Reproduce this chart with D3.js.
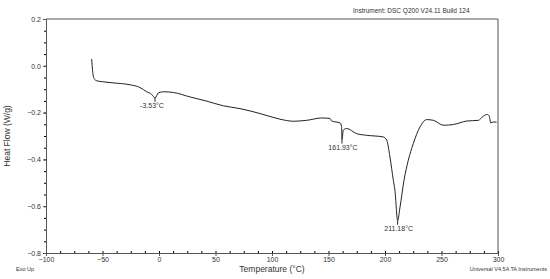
<!DOCTYPE html>
<html>
<head>
<meta charset="utf-8">
<script src="https://cdn.jsdelivr.net/npm/d3@7"></script>
<style>
  body { margin: 0; background: #fff; }
  text { font-family: "Liberation Sans", Arial, sans-serif; fill: #333; }
</style>
</head>
<body>
<div id="chart"></div>
<script>
// DSC trace, temperature (°C) vs heat flow (W/g)
var temps = [-59.6, -58.8, -57.5, -55.1, -50, -40.7, -25.7, -16.8, -10.9, -6.5, -3.5, -0.6, 3.8, 12.7, 27.4, 42.2, 56.9, 71.7, 89.4, 107, 118.9, 130.7, 144, 151.3, 152.8, 160.2, 161.6, 161.9, 163.1, 166.1, 174.9, 183.8, 198.5, 201.5, 204.4, 207.4, 208.8, 211.2, 213.3, 216.8, 220.6, 225, 231, 236.9, 242.8, 251.7, 260.5, 272.3, 282.6, 287, 290.5, 292.3, 293.5, 295.8, 298.8];
var heatFlow = [0.029, -0.02, -0.054, -0.064, -0.068, -0.073, -0.081, -0.093, -0.111, -0.122, -0.137, -0.116, -0.111, -0.114, -0.133, -0.151, -0.171, -0.183, -0.204, -0.228, -0.237, -0.233, -0.223, -0.225, -0.236, -0.244, -0.26, -0.315, -0.275, -0.268, -0.290, -0.297, -0.304, -0.318, -0.39, -0.49, -0.532, -0.662, -0.604, -0.49, -0.404, -0.333, -0.261, -0.23, -0.233, -0.254, -0.251, -0.236, -0.233, -0.215, -0.208, -0.215, -0.244, -0.24, -0.241];

var peakTemps = [-3.53, 161.93, 211.18];
var peakLabels = ["-3.53°C", "161.93°C", "211.18°C"];
var peakVals = [-0.137, -0.315, -0.662];
var labelShift = [-3, 1, 1];

var xTicks = [-100, -50, 0, 50, 100, 150, 200, 250, 300];
var yTicks = [0.2, 0.0, -0.2, -0.4, -0.6, -0.8];

const margin = {top: 19, right: 52, bottom: 26, left: 46},
  W = 550, H = 279,
  width = W - margin.left - margin.right,
  height = H - margin.top - margin.bottom;

var svg = d3.select("#chart").append("svg")
  .attr("width", W).attr("height", H);
var g = svg.append("g")
  .attr("transform", "translate(" + margin.left + "," + margin.top + ")");

var x = d3.scaleLinear().domain([-100, 300]).range([0, width]);
var y = d3.scaleLinear().domain([-0.8, 0.2]).range([height, 0]);

// minor ticks
g.append("g")
  .attr("transform", "translate(0," + height + ")")
  .call(d3.axisBottom(x).tickValues(d3.range(-100, 300.1, 12.5)).tickSize(-2).tickFormat(""))
  .call(a => a.select(".domain").remove());
g.append("g")
  .call(d3.axisLeft(y).tickValues(d3.range(-0.8, 0.21, 0.05)).tickSize(2).tickFormat(""))
  .call(a => a.select(".domain").remove());

// major axes
var xAxis = g.append("g")
  .attr("transform", "translate(0," + height + ")")
  .call(d3.axisBottom(x).tickValues(xTicks).tickSize(3).tickPadding(1).tickFormat(d3.format("d")));
var yAxis = g.append("g")
  .call(d3.axisLeft(y).tickValues(yTicks).tickSize(3).tickPadding(2).tickFormat(d3.format(".1f")));
[xAxis, yAxis].forEach(function(a) {
  a.selectAll("text").attr("font-size", "7px").style("fill", "#333");
  a.selectAll("line").attr("stroke", "#555");
  a.select(".domain").attr("stroke", "#555");
});

// frame
g.append("path")
  .attr("d", "M0,0H" + width + "V" + height)
  .attr("fill", "none").attr("stroke", "#555");

var line = d3.line()
  .x(function(d, i) { return x(temps[i]); })
  .y(function(d) { return y(d); })
  .curve(d3.curveMonotoneX);

g.append("path")
  .datum(heatFlow)
  .attr("d", line)
  .attr("fill", "none")
  .attr("stroke", "#222")
  .attr("stroke-width", 1);

// peak markers + labels
peakTemps.forEach(function(t, i) {
  var px = x(t), py = y(peakVals[i]);
  g.append("line")
    .attr("x1", px).attr("x2", px).attr("y1", py).attr("y2", py + 4)
    .attr("stroke", "#222");
  g.append("text")
    .attr("x", px + labelShift[i]).attr("y", py + 10)
    .attr("text-anchor", "middle").attr("font-size", "7px")
    .text(peakLabels[i]);
});

svg.append("text")
  .attr("x", margin.left + width / 2).attr("y", 272)
  .attr("text-anchor", "middle").attr("font-size", "8.5px")
  .text("Temperature (°C)");
svg.append("text")
  .attr("transform", "translate(10," + (margin.top + height / 2) + ") rotate(-90)")
  .attr("text-anchor", "middle").attr("font-size", "8.5px")
  .text("Heat Flow (W/g)");
svg.append("text")
  .attr("x", 353).attr("y", 13).attr("font-size", "6.5px")
  .text("Instrument: DSC Q200 V24.11 Build 124");
svg.append("text")
  .attr("x", 16).attr("y", 271).attr("font-size", "5.5px")
  .text("Exo Up");
svg.append("text")
  .attr("x", 547).attr("y", 271).attr("text-anchor", "end").attr("font-size", "5.5px")
  .text("Universal V4.5A TA Instruments");
</script>
</body>
</html>
